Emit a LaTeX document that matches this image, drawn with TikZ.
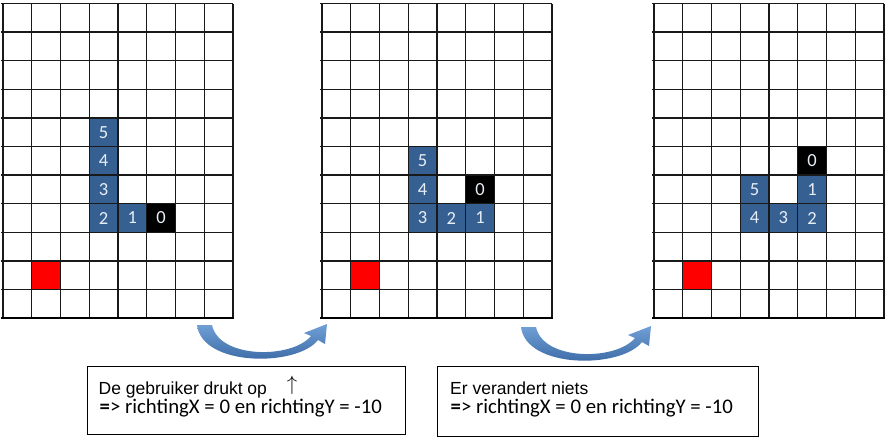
\documentclass[tikz,border=0pt]{standalone}
\usepackage{fontspec}
\setmainfont{Carlito}
\newfontfamily\arialf{Liberation Sans}
\definecolor{snakeblue}{RGB}{54,96,146}
\definecolor{digitcol}{RGB}{232,238,246}
\definecolor{arrowlight}{RGB}{112,160,214}
\definecolor{arrowdark}{RGB}{52,98,158}
\definecolor{gridcol}{RGB}{25,25,25}
\newcommand{\cw}{28.75}
\newcommand{\ch}{28.6}
\newcommand{\gy}{3.5}
\newcommand{\drawgrid}[1]{%
  \foreach \i in {0,...,8} {\draw[gridline] ({#1+\i*\cw},\gy) -- ({#1+\i*\cw},{\gy+11*\ch});}
  \foreach \j in {0,...,10} {\draw[gridline] ({#1-2},{\gy+\j*\ch}) -- ({#1+8*\cw},{\gy+\j*\ch});}
  \draw[gridbottom] ({#1-2},{\gy+11*\ch}) -- ({#1+8*\cw+1},{\gy+11*\ch});
}
\newcommand{\gcell}[6]{%
  \node[cellbox, fill=#5] (#1) at ({#2+(#3+0.5)*\cw},{\gy+(#4+0.5)*\ch}) {#6};}
\newcommand{\curvedarrow}[3]{%
  \coordinate (#1) at (#2,#3);
  \shade[arrowshade, shift={(#1)}] (0,0) .. controls (5,42) and (100,42) .. (121,15)
     -- (128,19) -- (130,-1) -- (107,8) -- (114,11)
     .. controls (95,34) and (22,34) .. (15,0) -- cycle;}
\begin{document}
\begin{tikzpicture}[x=1pt,y=-1pt,
  gridline/.style={draw=gridcol, line width=1.3pt},
  gridbottom/.style={draw=black, line width=2.6pt},
  cellbox/.style={draw=none, minimum width=28.75pt, minimum height=28.6pt, inner sep=0pt,
     text=digitcol, font=\fontsize{18.5}{18.5}\selectfont},
  arrowshade/.style={top color=arrowlight, bottom color=arrowdark},
  tbox/.style={draw=black, line width=1pt, anchor=north west, inner sep=0pt},
  lineA/.style={anchor=base west, inner sep=0pt},
  lineB/.style={anchor=base west, inner sep=0pt, font=\fontsize{20.8}{24}\selectfont}]
\useasboundingbox (0,0) rectangle (894,440);
\fill[white] (0,0) rectangle (894,440);
% grid 1
\gcell{a5}{3}{3}{4}{snakeblue}{5}
\gcell{a4}{3}{3}{5}{snakeblue}{4}
\gcell{a3}{3}{3}{6}{snakeblue}{3}
\gcell{a2}{3}{3}{7}{snakeblue}{2}
\gcell{a1}{3}{4}{7}{snakeblue}{1}
\gcell{a0}{3}{5}{7}{black}{0}
\gcell{ared}{3}{1}{9}{red}{}
\drawgrid{3}
% grid 2
\gcell{b5}{322}{3}{5}{snakeblue}{5}
\gcell{b4}{322}{3}{6}{snakeblue}{4}
\gcell{b3}{322}{3}{7}{snakeblue}{3}
\gcell{b2}{322}{4}{7}{snakeblue}{2}
\gcell{b1}{322}{5}{7}{snakeblue}{1}
\gcell{b0}{322}{5}{6}{black}{0}
\gcell{bred}{322}{1}{9}{red}{}
\drawgrid{322}
% grid 3
\gcell{c0}{654}{5}{5}{black}{0}
\gcell{c1}{654}{5}{6}{snakeblue}{1}
\gcell{c2}{654}{5}{7}{snakeblue}{2}
\gcell{c3}{654}{4}{7}{snakeblue}{3}
\gcell{c4}{654}{3}{7}{snakeblue}{4}
\gcell{c5}{654}{3}{6}{snakeblue}{5}
\gcell{cred}{654}{1}{9}{red}{}
\drawgrid{654}
% curved arrows
\curvedarrow{arrA}{197}{325}
\curvedarrow{arrB}{521}{327}
% text boxes
\node[tbox, minimum width=318.5pt, minimum height=68pt] (box1) at (86.5,366) {};
\node[lineA] (t1a) at (98.5,394) {\arialf\fontsize{17.5}{20}\selectfont De gebruiker drukt op};
\node[inner sep=0pt] (up1) at (292,385.5) {\fontsize{20.5}{22}\selectfont$\uparrow$};
\node[lineB] (t1b) at (99.5,413) {\textbf{=}>\ richtingX = 0 en richtingY = -10};
\node[tbox, minimum width=321pt, minimum height=70pt] (box2) at (437,366) {};
\node[lineA] (t2a) at (450,394) {\arialf\fontsize{17.5}{20}\selectfont Er verandert niets};
\node[lineB] (t2b) at (450.5,413) {\textbf{=}>\ richtingX = 0 en richtingY = -10};
\end{tikzpicture}
\end{document}
